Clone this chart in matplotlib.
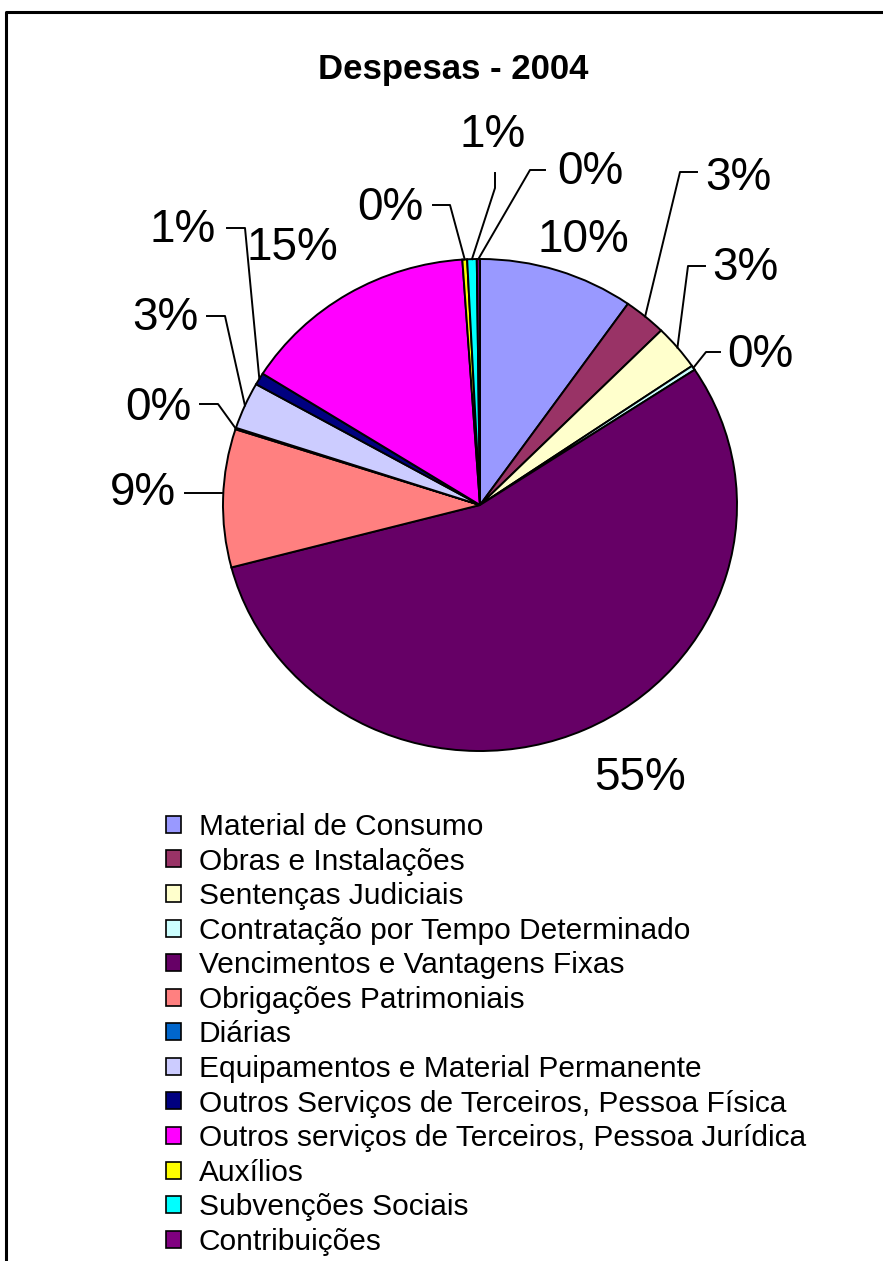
import numpy as np
import matplotlib.pyplot as plt
from matplotlib.patches import Patch

plt.rcParams['font.family'] = ['Liberation Sans', 'DejaVu Sans']

# Despesas 2004 (shares, %)
categories = ['Material de Consumo', 'Obras e Instalações', 'Sentenças Judiciais',
              'Contratação por Tempo Determinado', 'Vencimentos e Vantagens Fixas',
              'Obrigações Patrimoniais', 'Diárias', 'Equipamentos e Material Permanente',
              'Outros Serviços de Terceiros, Pessoa Física',
              'Outros serviços de Terceiros, Pessoa Jurídica', 'Auxílios',
              'Subvenções Sociais', 'Contribuições']
values = [9.8, 2.7, 3.0, 0.3, 55.4, 9.1, 0.1, 3.1, 0.8, 15.0, 0.3, 0.6, 0.2]
colors = ['#9999FF', '#993366', '#FFFFCC', '#CCFFFF', '#660066', '#FF8080', '#0066CC',
          '#CCCCFF', '#000080', '#FF00FF', '#FFFF00', '#00FFFF', '#800080']

W, H = 883, 1261
cx, cy, rx, ry = 480, 505, 257, 246

# label text position (px) and leader elbow (px) or None
label_pos = [(583, 240), (738, 178), (745, 268), (760, 355), (640, 778), (143, 493),
             (158, 408), (165, 318), (183, 230), (292, 248), (390, 208), (493, 135),
             (590, 172)]
elbows = [None, [(680, 172), (697, 172)], [(688, 266), (705, 266)],
          [(706, 352), (720, 352)], None, [(222, 493), (185, 493)],
          [(218, 404), (200, 404)], [(225, 316), (207, 316)], [(245, 228), (227, 228)],
          None, [(450, 205), (433, 205)], [(495, 188), (495, 173)],
          [(530, 170), (545, 170)]]

fig = plt.figure(figsize=(W / 100, H / 100), dpi=100)

# outer frame (left and top edges visible)
frame = fig.add_axes([0, 0, 1, 1])
frame.set_xlim(0, W)
frame.set_ylim(H, 0)
frame.axis('off')
frame.plot([6, 6, W + 5], [H + 5, 12, 12], color='black', lw=2.2, clip_on=False)

ax = fig.add_axes([(cx - rx) / W, 1 - (cy + ry) / H, 2 * rx / W, 2 * ry / H])
wedges, _ = ax.pie(values, colors=colors, startangle=90, counterclock=False,
                   wedgeprops=dict(edgecolor='black', linewidth=1.4))
ax.set_aspect('auto')
ax.set_xlim(-1, 1)
ax.set_ylim(-1, 1)
ax.axis('off')


def to_data(p):
    return (p[0] - cx) / rx, (cy - p[1]) / ry


total = sum(values)
for w, v, pos, elb in zip(wedges, values, label_pos, elbows):
    txt = '%d%%' % round(v / total * 100)
    tx, ty = to_data(pos)
    ax.text(tx, ty, txt, fontsize=33, ha='center', va='center', clip_on=False)
    if elb is not None:
        mid = np.deg2rad((w.theta1 + w.theta2) / 2)
        start = (np.cos(mid), np.sin(mid))
        if len(elb) == 2 and elb[0][0] > 220 and elb[0][0] < 225:
            start = to_data(elb[0])
            elb = elb[1:]
        pts = [start] + [to_data(p) for p in elb]
        xs, ys = zip(*pts)
        ax.plot(xs, ys, color='black', lw=1.4, clip_on=False)

fig.text(453 / W, 1 - 70 / H, 'Despesas - 2004', fontsize=25, fontweight='bold',
         ha='center', va='center')

handles = [Patch(facecolor=c, edgecolor='black', linewidth=1.2) for c in colors]
fig.legend(handles, categories, loc='upper left', bbox_to_anchor=(166 / W, 1 - 813 / H),
           frameon=False, fontsize=21.5, handlelength=0.5, handleheight=0.5,
           handletextpad=0.6, labelspacing=0.22, borderaxespad=0, borderpad=0)

fig.savefig('out.png', dpi=100)
